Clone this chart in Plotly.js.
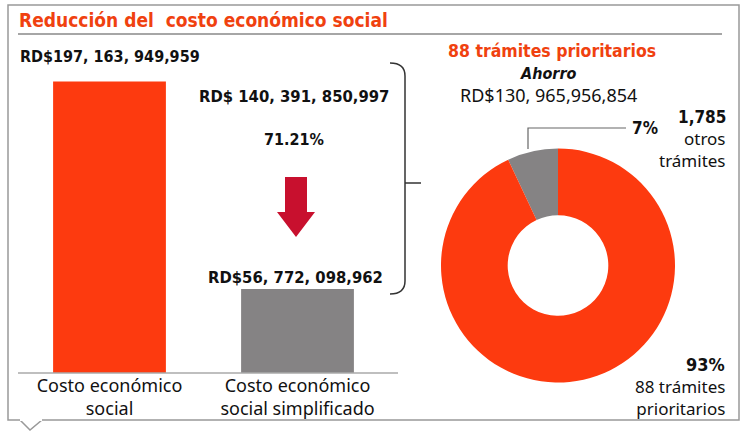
<!DOCTYPE html>
<html><head><meta charset="utf-8">
<script src="https://cdn.plot.ly/plotly-3.0.1.min.js"></script>
<style>html,body{margin:0;padding:0;background:#fff}#c{width:746px;height:431px}</style>
</head><body><div id="c"></div>
<script>
// ---- data ----
const barCategories = ["Costo económico<br>social", "Costo económico<br>social simplificado"];
const barValues = [197.163949959, 56.772098962]; // miles de millones RD$
const barColors = ["#fd3a0f", "#858384"];
const pieLabels = ["otros trámites", "trámites prioritarios"];
const pieValues = [7, 93];
const pieCounts = [1785, 88];
const pieColors = ["#858384", "#fd3a0f"];

const W = 746, H = 431;
const px = x => x / W, py = y => 1 - y / H;
const BOLD = "DejaVu Sans Condensed, Roboto, sans-serif";
const REG = "Noto Sans";
const RED = "#f0410f";

function ann(text, x, y, opts) {
  return Object.assign({text: text, x: px(x), y: py(y), xref: "paper", yref: "paper",
    showarrow: false, xanchor: "center", yanchor: "middle",
    font: {family: BOLD, size: 16, color: "#111", weight: 700}}, opts || {});
}

const traces = [
  {type: "bar", x: barCategories, y: barValues, marker: {color: barColors}, width: 0.6,
   hoverinfo: "skip", xaxis: "x", yaxis: "y"},
  {type: "pie", labels: pieLabels, values: pieValues, customdata: pieCounts,
   marker: {colors: pieColors, line: {width: 0}}, hole: 0.43, sort: false,
   direction: "clockwise", rotation: -25.2, textinfo: "none", hoverinfo: "skip",
   showlegend: false,
   domain: {x: [px(441), px(675)], y: [py(383), py(148)]}}
];

const shapes = [
  {type: "path", xref: "paper", yref: "paper",
   path: `M${px(20)},${py(420)} L${px(8)},${py(420)} L${px(8)},${py(5)} L${px(739)},${py(5)} L${px(739)},${py(420)} L${px(42)},${py(420)} L${px(30)},${py(430)} Z`,
   line: {color: "#999", width: 1.5}, fillcolor: "rgba(0,0,0,0)"},
  {type: "line", xref: "paper", yref: "paper", x0: px(20), x1: px(42), y0: py(420), y1: py(420),
   line: {color: "#fff", width: 2}},
  {type: "line", xref: "paper", yref: "paper", x0: px(18), x1: px(722), y0: py(34), y1: py(34),
   line: {color: "#888", width: 1.5}},
  {type: "line", xref: "paper", yref: "paper", x0: px(18), x1: px(398), y0: py(373), y1: py(373),
   line: {color: "#aaa", width: 1.5}},
  {type: "path", xref: "paper", yref: "paper",
   path: `M${px(390)},${py(63)} Q${px(405)},${py(63)} ${px(405)},${py(76)} L${px(405)},${py(281)} Q${px(405)},${py(294)} ${px(390)},${py(294)}`,
   line: {color: "#333", width: 1.5}},
  {type: "line", xref: "paper", yref: "paper", x0: px(405), x1: px(421), y0: py(183), y1: py(183),
   line: {color: "#333", width: 1.5}},
  {type: "path", xref: "paper", yref: "paper",
   path: `M${px(285)},${py(177)} L${px(307)},${py(177)} L${px(307)},${py(212)} L${px(315)},${py(212)} L${px(296)},${py(237)} L${px(277)},${py(212)} L${px(285)},${py(212)} Z`,
   line: {width: 0}, fillcolor: "#c8102e"},
  {type: "path", xref: "paper", yref: "paper",
   path: `M${px(528)},${py(149)} L${px(528)},${py(128)} L${px(626)},${py(128)}`,
   line: {color: "#666", width: 1.2}}
];

const annotations = [
  ann("Reducción del  costo económico social", 17, 20, {xanchor: "left", font: {family: BOLD, size: 19, color: RED, weight: 700}}),
  ann("RD$197, 163, 949,959", 18, 56, {xanchor: "left"}),
  ann("RD$ 140, 391, 850,997", 294, 97, {font: {family: BOLD, size: 16.5, color: "#111", weight: 700}}),
  ann("71.21%", 294, 139),
  ann("RD$56, 772, 098,962", 295, 277, {font: {family: BOLD, size: 16.5, color: "#111", weight: 700}}),
  ann("88 trámites prioritarios", 552, 51, {font: {family: BOLD, size: 17.5, color: RED, weight: 700}}),
  ann("<i>Ahorro</i>", 548, 73),
  ann("RD$130, 965,956,854", 548, 95, {font: {family: REG, size: 18, color: "#111"}}),
  ann(pieValues[0] + "%", 645, 128, {font: {family: BOLD, size: 17, color: "#111", weight: 700}}),
  ann(pieCounts[0].toLocaleString("en-US"), 728, 117, {xanchor: "right", font: {family: BOLD, size: 17, color: "#111", weight: 700}}),
  ann("otros<br>trámites", 728, 149, {xanchor: "right", align: "right", font: {family: REG, size: 17, color: "#111"}}),
  ann(pieValues[1] + "%", 727, 364, {xanchor: "right", font: {family: BOLD, size: 18, color: "#111", weight: 700}}),
  ann(pieCounts[1] + " trámites<br>prioritarios", 727, 397, {xanchor: "right", align: "right", font: {family: REG, size: 17, color: "#111"}})
];

const layout = {
  width: W, height: H, margin: {l: 0, r: 0, t: 0, b: 0},
  paper_bgcolor: "#fff", plot_bgcolor: "rgba(0,0,0,0)", showlegend: false,
  xaxis: {domain: [px(15.5), px(391.5)], range: [-0.5, 1.5], showgrid: false, zeroline: false,
          showline: false, ticks: "", tickfont: {family: REG, size: 18, color: "#111"}, fixedrange: true},
  yaxis: {domain: [py(373), py(77.2)], range: [0, 200], visible: false, fixedrange: true},
  bargap: 0.4,
  shapes: shapes, annotations: annotations
};
Plotly.newPlot("c", traces, layout, {displayModeBar: false, staticPlot: true});
</script></body></html>
